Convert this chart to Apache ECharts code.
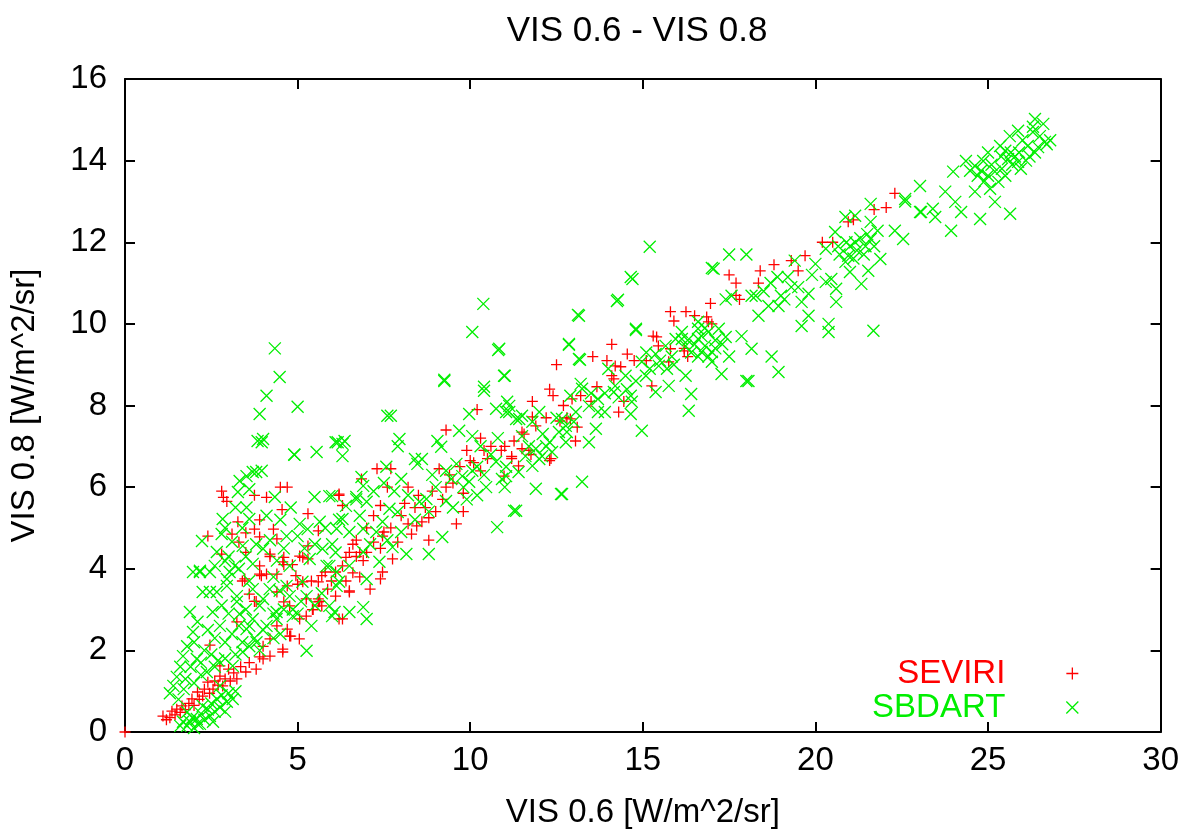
<!DOCTYPE html>
<html>
<head>
<meta charset="utf-8">
<title>VIS 0.6 - VIS 0.8</title>
<script src="https://cdn.jsdelivr.net/npm/echarts@6/dist/echarts.min.js"></script>
<style>
  html, body { margin: 0; padding: 0; background: #fff; }
  #chart { width: 1182px; height: 834px; }
</style>
</head>
<body>
<div id="chart"></div>
<script>
// axis ticks
const xTicks = [0, 5, 10, 15, 20, 25, 30];
const yTicks = [0, 2, 4, 6, 8, 10, 12, 14, 16];

// SEVIRI measurements [VIS 0.6, VIS 0.8]
const seviriLow = [
  [0, 0], [1.1, 0.39], [1.2, 0.3], [1.3, 0.35], [1.36, 0.51], [1.45, 0.42], [1.5, 0.56], [1.6, 0.48],
  [1.65, 0.64], [1.75, 0.55], [1.85, 0.7], [1.94, 0.81], [2.0, 0.65], [2.1, 0.98], [2.15, 0.8],
  [2.25, 0.88], [2.3, 1.05], [2.4, 1.22], [2.45, 0.95], [2.55, 1.05], [2.6, 1.25], [2.75, 1.37],
  [2.7, 1.15], [2.83, 1.13], [2.9, 1.3], [3.0, 1.54], [3.05, 1.25], [3.15, 1.45], [3.24, 1.3],
  [3.35, 1.6], [3.5, 1.47], [3.6, 1.7], [3.8, 1.54], [3.9, 1.84], [4.0, 1.79], [4.0, 2.1], [4.2, 1.86],
  [4.2, 2.28], [4.4, 2.6], [4.57, 1.96], [4.57, 2.03], [4.7, 2.52], [4.77, 2.35], [4.8, 2.35],
  [5.05, 2.28], [5.06, 2.77], [5.25, 2.84], [5.43, 3.0], [5.45, 3.0], [5.6, 3.26], [5.64, 3.2],
  [5.7, 3.09], [6.1, 3.33], [6.2, 2.77], [6.3, 2.77], [6.5, 3.43], [6.5, 3.46], [2.46, 2.13],
  [2.75, 1.62], [3.24, 2.7]
];
const seviriCloud = [
  [2.4, 4.8], [2.8, 5.9], [2.85, 5.75], [2.95, 5.65], [3.1, 4.85], [3.27, 5.15], [3.3, 4.65],
  [3.4, 3.7], [3.47, 3.75], [3.5, 4.4], [3.5, 4.88], [3.6, 3.38], [3.75, 3.2], [3.75, 4.97],
  [3.75, 5.8], [3.8, 3.2], [3.9, 3.87], [3.9, 4.78], [3.9, 5.2], [3.95, 3.83], [4.1, 3.87],
  [4.1, 5.75], [4.2, 4.3], [4.2, 4.36], [4.3, 4.97], [4.4, 3.43], [4.4, 3.87], [4.4, 4.73],
  [4.5, 6.0], [4.55, 5.45], [4.57, 4.17], [4.6, 3.19], [4.6, 4.1], [4.6, 4.28], [4.7, 3.58],
  [4.7, 6.0], [4.77, 3.09], [4.85, 4.1], [4.95, 3.83], [5.0, 3.62], [5.06, 4.31], [5.15, 3.68],
  [5.15, 4.28], [5.25, 3.26], [5.3, 4.24], [5.3, 4.56], [5.3, 5.35], [5.4, 3.7], [5.6, 3.19],
  [5.6, 3.68], [5.6, 4.93], [5.7, 3.83], [5.8, 3.92], [5.87, 3.5], [5.98, 3.7], [6.1, 3.92],
  [2.8, 4.36], [3.9, 4.07]
];
const seviriMid = [
  [6.2, 5.83], [6.3, 5.55], [6.2, 5.8], [6.3, 4.07], [6.4, 3.7], [6.4, 4.28], [6.5, 4.4], [6.7, 4.7],
  [6.8, 3.8], [6.8, 4.4], [6.85, 6.2], [7.1, 3.5], [7.2, 4.65], [7.3, 6.45], [7.4, 3.75], [7.4, 4.5],
  [7.4, 5.55], [7.46, 3.92], [7.6, 6.0], [7.7, 6.45], [7.75, 4.24], [7.9, 4.65], [8.2, 6.0],
  [8.3, 4.85], [8.6, 5.15], [8.8, 4.7], [9.0, 5.4], [9.1, 6.45], [9.3, 7.4], [9.5, 6.1], [9.6, 5.1],
  [9.8, 5.85], [9.8, 5.4], [10.0, 6.65], [10.2, 7.9], [10.3, 7.2], [10.3, 6.4], [10.6, 7.0],
  [8.0, 5.3], [8.1, 5.6], [8.4, 5.5], [8.5, 5.8], [8.7, 5.5], [8.9, 5.9], [9.2, 5.7], [9.3, 6.0],
  [8.2, 5.1], [7.7, 5.0], [7.5, 4.9], [7.0, 4.4], [6.9, 4.2], [6.6, 3.9], [6.7, 4.3], [9.4, 6.3],
  [9.7, 6.5], [10.1, 6.6], [10.5, 6.7], [10.4, 6.9], [9.9, 6.9], [7.2, 5.3], [7.0, 5.0], [6.6, 4.6],
  [7.46, 4.8], [8.8, 5.25], [8.45, 5.05]
];
const seviriHigh = [
  [10.9, 6.9], [11.0, 7.0], [10.98, 6.27], [11.2, 6.75], [11.2, 6.7], [11.27, 7.13], [11.4, 6.52],
  [11.5, 7.35], [11.5, 6.94], [11.56, 7.3], [11.7, 6.9], [11.76, 6.8], [11.8, 8.1], [11.8, 7.72],
  [11.9, 7.5], [12.2, 7.7], [12.3, 8.4], [12.3, 6.65], [12.34, 6.7], [12.4, 8.24], [12.5, 9.0],
  [12.6, 7.62], [12.7, 8.0], [12.8, 7.7], [12.9, 7.67], [12.95, 8.16], [13.05, 7.13], [13.1, 7.47],
  [13.2, 8.24], [13.5, 8.1], [13.55, 9.2], [13.67, 8.46], [13.96, 9.1], [14.1, 9.5], [14.1, 8.73],
  [14.16, 8.65], [14.2, 8.97], [14.3, 7.84], [14.36, 8.95], [14.45, 8.1], [14.55, 9.26],
  [14.75, 9.1], [15.1, 9.1], [15.26, 8.48], [15.3, 9.7], [15.4, 9.68], [15.45, 9.46], [15.75, 9.07],
  [15.8, 10.3], [15.8, 9.39], [15.9, 10.07], [16.2, 9.4], [16.2, 9.34], [16.25, 10.3], [16.3, 9.2],
  [16.5, 10.2], [16.85, 10.17], [16.9, 10.05], [16.96, 10.5], [17.0, 10.0], [17.5, 11.2],
  [17.7, 11.0], [17.7, 10.7], [17.8, 10.6], [18.35, 11.0], [18.4, 11.3], [18.8, 11.45],
  [19.3, 11.55], [19.5, 11.3], [19.7, 11.67], [20.2, 12.0], [20.5, 12.0], [20.95, 12.5],
  [21.1, 12.55], [21.7, 12.8], [22.05, 12.85], [22.3, 13.2]
];

// SBDART simulations [VIS 0.6, VIS 0.8]
const sbdartLow = [
  [1.6, 0.15], [1.68, 0.25], [1.8, 0.15], [1.8, 0.49], [1.88, 0.25], [1.95, 0.35], [2.0, 0.1],
  [2.08, 0.32], [2.1, 0.2], [2.17, 0.2], [2.2, 0.45], [2.25, 0.64], [2.3, 0.3], [2.4, 0.55],
  [2.46, 0.39], [2.5, 0.7], [2.6, 0.5], [2.66, 0.81], [2.75, 0.6], [2.8, 0.9], [2.95, 0.74],
  [3.0, 0.95], [3.12, 0.81], [3.2, 1.0], [2.9, 0.5], [2.55, 0.25]
];
const sbdartCloud = [
  [1.4, 1.13], [1.3, 0.95], [1.5, 1.35], [1.6, 1.6], [1.68, 1.86], [1.75, 1.3], [1.8, 2.1],
  [1.88, 2.94], [1.9, 1.6], [1.97, 2.45], [2.0, 2.2], [2.08, 1.79], [2.1, 2.7], [2.17, 3.92],
  [2.2, 1.4], [2.25, 3.43], [2.3, 2.0], [2.37, 1.47], [2.4, 2.5], [2.46, 3.43], [2.46, 3.92],
  [2.5, 1.9], [2.54, 2.94], [2.6, 2.3], [2.66, 3.43], [2.7, 1.75], [2.75, 1.13], [2.75, 2.6],
  [2.8, 3.1], [2.9, 2.2], [2.95, 3.58], [2.95, 3.75], [3.0, 2.9], [3.03, 3.92], [3.1, 2.4],
  [3.12, 1.62], [3.2, 1.9], [3.24, 3.19], [3.24, 3.33], [3.3, 2.6], [3.32, 2.89], [3.4, 2.2],
  [3.41, 1.96], [3.5, 3.0], [3.52, 2.52], [3.6, 2.1], [3.7, 2.77], [3.7, 3.5], [3.75, 2.3],
  [3.81, 2.2], [3.9, 3.1], [4.0, 3.26], [4.0, 2.5], [4.1, 2.6], [4.19, 3.5], [4.3, 2.9],
  [4.39, 2.77], [4.39, 2.94], [4.48, 3.46], [4.5, 2.4], [4.68, 3.58], [4.77, 3.33], [4.86, 2.84],
  [4.86, 3.0], [5.0, 2.9], [5.14, 3.68], [5.26, 1.99], [5.26, 3.33], [5.4, 2.6], [5.5, 3.1],
  [5.84, 4.07], [5.92, 3.09], [6.0, 2.84], [6.07, 2.94], [6.13, 3.58], [6.13, 3.92], [6.2, 3.68],
  [6.5, 2.94], [6.5, 4.07], [6.9, 3.06], [7.0, 2.77], [7.0, 3.75], [7.37, 4.17], [6.9, 4.41],
  [1.55, 0.8], [1.7, 1.05], [2.0, 1.2], [2.2, 1.7], [2.6, 1.6], [2.9, 1.8], [3.6, 2.6], [3.9, 2.0],
  [4.3, 2.3], [4.6, 3.0], [5.1, 3.2], [5.7, 3.4]
];
const sbdartUpper = [
  [1.97, 3.92], [2.17, 3.95], [2.23, 4.68], [2.6, 4.07], [2.66, 4.41], [2.8, 4.85], [2.83, 5.22],
  [2.9, 4.19], [3.1, 4.66], [3.18, 4.07], [3.27, 5.88], [3.32, 6.15], [3.41, 4.56], [3.52, 5.5],
  [3.52, 6.27], [3.6, 5.22], [3.6, 5.95], [3.7, 4.12], [3.7, 6.37], [3.8, 6.37], [3.84, 7.13],
  [3.96, 6.4], [3.96, 7.1], [4.0, 4.49], [4.0, 7.18], [4.1, 5.3], [4.34, 5.76], [4.68, 4.8],
  [4.77, 4.07], [4.91, 6.79], [5.0, 4.8], [5.06, 5.1], [5.29, 4.97], [5.35, 4.24], [5.49, 5.76],
  [5.55, 6.86], [5.64, 5.15], [5.72, 4.49], [5.92, 4.07], [5.92, 5.78], [6.1, 7.1], [6.16, 7.1],
  [6.3, 7.06], [6.3, 6.76], [6.7, 5.7], [6.85, 6.25], [7.6, 7.75], [4.9, 6.8],
  [3.9, 7.79], [4.1, 8.24], [4.34, 9.4], [4.48, 8.7], [5.0, 7.97],
  [3.0, 4.3], [3.3, 4.0], [3.5, 4.3], [3.8, 4.6], [4.2, 4.7], [4.4, 4.2], [4.6, 4.5], [4.3, 3.8],
  [3.6, 3.7], [3.4, 5.0], [3.2, 5.5], [2.9, 5.0], [4.5, 5.2], [4.8, 5.5], [5.2, 4.5], [5.5, 4.6],
  [5.8, 5.0], [6.0, 4.6], [6.2, 5.2], [6.1, 4.4]
];
const sbdartMid = [
  [6.0, 5.78], [6.13, 4.98], [6.3, 5.22], [6.36, 7.13], [6.4, 5.54], [6.5, 4.9], [6.7, 5.76],
  [6.9, 4.98], [6.9, 6.03], [7.0, 5.64], [7.28, 4.9], [7.46, 5.15], [7.57, 6.5], [7.66, 5.47],
  [7.7, 7.75], [7.75, 4.53], [7.9, 5.39], [7.9, 7.0], [7.95, 7.18], [8.15, 4.36], [8.4, 6.69],
  [8.47, 6.57], [8.53, 5.64], [8.6, 6.69], [8.73, 5.71], [8.8, 4.36], [9.05, 7.13], [9.16, 6.99],
  [9.19, 4.78], [9.25, 8.6], [9.3, 5.66], [9.45, 6.2], [9.6, 6.57], [9.68, 7.38], [9.77, 6.27],
  [9.97, 6.13], [9.97, 7.79], [10.06, 6.4], [10.06, 7.25], [10.4, 8.36], [10.46, 6.0],
  [10.75, 6.62], [10.75, 7.92], [10.78, 5.02], [10.92, 6.2], [11.04, 6.5], [11.07, 8.09],
  [11.13, 7.84], [11.33, 5.42], [11.5, 7.75], [11.6, 6.76], [11.8, 7.6], [11.9, 6.94],
  [11.9, 5.96], [12.08, 6.76], [12.66, 5.83], [12.66, 7.67],
  [7.2, 5.9], [7.5, 6.1], [7.8, 5.9], [8.0, 6.2], [8.2, 5.8], [8.4, 5.2], [8.0, 4.9], [7.6, 4.7],
  [7.1, 4.6], [6.8, 5.3], [8.8, 5.4], [9.0, 6.0], [9.3, 6.4], [8.9, 6.3], [9.5, 5.5], [9.8, 6.0],
  [10.2, 6.5], [10.4, 6.3], [10.6, 6.8], [10.3, 7.0], [10.8, 7.2], [10.2, 5.8], [11.0, 6.0],
  [9.9, 5.7]
];
const sbdartBand = [
  [10.84, 9.39], [10.98, 8.73], [11.04, 6.27], [11.04, 7.84], [11.13, 7.99], [11.27, 5.42],
  [11.33, 7.67], [11.4, 6.37], [11.42, 7.67], [11.5, 7.25], [11.8, 6.52], [12.0, 6.69],
  [12.0, 7.84], [12.2, 7.0], [12.3, 7.1], [12.37, 6.86], [12.57, 7.35], [12.63, 5.83],
  [12.77, 7.5], [12.77, 7.1], [12.8, 7.35], [12.86, 9.51], [12.9, 8.24], [13.06, 7.84],
  [13.15, 9.14], [13.15, 10.2], [13.2, 8.53], [13.24, 6.13], [13.24, 8.41], [13.44, 7.99],
  [13.44, 7.1], [13.64, 7.43], [13.7, 7.84], [13.7, 8.16], [13.9, 7.84], [14.16, 8.33],
  [14.2, 8.48], [14.25, 10.56], [14.5, 8.73], [14.54, 8.4], [14.65, 7.79], [14.65, 8.24],
  [14.68, 8.09], [14.7, 11.1], [14.8, 9.88], [14.97, 7.38], [14.97, 9.07], [15.09, 8.73],
  [15.2, 8.9], [15.37, 8.33], [15.37, 9.26], [15.46, 8.97], [15.66, 9.46], [15.75, 8.48],
  [15.84, 9.2], [15.95, 9.63], [16.13, 9.63], [16.13, 9.8], [16.24, 9.46], [16.24, 8.73],
  [16.33, 7.87], [16.4, 8.28], [16.6, 9.63], [16.6, 9.88], [16.6, 10.05], [16.7, 9.31],
  [16.8, 9.46], [17.0, 9.31], [17.0, 9.07], [17.2, 9.88], [17.28, 8.77], [17.4, 9.68], [17.5, 9.2],
  [17.57, 10.69], [17.86, 9.7], [18.0, 8.6], [18.15, 9.39], [18.27, 10.69],
  [10.06, 9.8], [10.38, 10.49], [10.4, 8.46], [10.81, 9.36], [11.0, 8.73], [12.86, 9.49],
  [13.12, 10.22], [13.18, 9.12], [14.28, 10.59], [14.65, 11.15], [14.8, 9.85], [15.2, 11.89],
  [17.0, 11.37], [9.25, 8.63],
  [16.5, 9.5], [16.7, 9.7], [16.9, 9.8], [17.1, 9.6], [16.8, 9.9], [16.4, 9.3], [16.9, 9.2],
  [17.1, 9.4], [16.6, 9.2], [17.3, 9.5], [16.3, 9.6], [15.5, 9.1], [15.1, 9.3], [14.8, 8.6],
  [14.3, 8.2], [13.9, 8.3], [13.5, 8.3], [13.0, 7.6], [12.5, 7.7], [12.1, 7.3], [11.7, 7.0],
  [14.0, 8.9], [15.7, 8.9], [15.9, 9.0]
];
const sbdartRight = [
  [17.05, 11.35], [17.4, 10.6], [17.5, 11.7], [18.0, 11.7], [18.06, 8.6], [18.15, 10.69],
  [18.35, 10.2], [18.64, 10.44], [18.73, 9.2], [18.9, 11.15], [18.93, 10.44], [18.93, 8.82],
  [19.0, 10.69], [19.2, 11.15], [19.4, 11.55], [19.5, 10.9], [19.6, 10.54], [19.6, 9.95],
  [19.8, 10.74], [20.0, 11.47], [20.3, 11.03], [20.3, 11.84], [20.38, 10.0], [20.38, 9.8],
  [20.46, 11.1], [20.57, 12.25], [20.6, 10.86], [20.6, 10.54], [20.66, 11.9], [20.87, 11.52],
  [20.87, 12.62], [20.95, 11.67], [21.0, 11.27], [21.15, 12.0], [21.15, 12.65], [21.33, 10.98],
  [21.45, 11.9], [21.53, 11.3], [21.6, 12.08], [21.6, 12.5], [21.6, 12.94], [21.68, 9.83],
  [21.8, 12.28], [21.88, 11.59], [22.3, 12.28], [22.54, 12.08],
  [21.0, 11.9], [21.2, 11.8], [21.3, 12.1], [21.1, 11.6], [21.4, 11.7], [20.9, 12.0], [21.5, 12.2],
  [21.7, 11.9], [20.7, 11.7], [18.5, 10.8], [18.7, 11.0], [19.3, 10.9], [19.1, 10.6], [19.9, 11.2],
  [19.8, 10.2]
];
const sbdartTop = [
  [22.6, 13.06], [22.6, 13.0], [23.03, 13.38], [23.03, 12.74], [23.06, 12.74], [23.4, 12.82],
  [23.47, 12.62], [23.76, 13.24], [23.93, 12.28], [23.99, 13.73], [24.05, 12.99], [24.22, 12.74],
  [24.36, 13.99], [24.48, 13.75], [24.62, 13.87], [24.62, 13.24], [24.7, 13.63], [24.77, 12.57],
  [24.8, 13.75], [24.86, 13.99], [25.0, 14.2], [25.0, 13.63], [25.06, 13.31], [25.2, 13.73],
  [25.2, 12.99], [25.3, 13.48], [25.35, 14.36], [25.38, 14.1], [25.5, 14.24], [25.5, 13.63],
  [25.58, 14.04], [25.63, 14.6], [25.64, 12.7], [25.66, 14.2], [25.78, 14.1], [25.87, 14.73],
  [25.87, 13.97], [25.95, 13.8], [26.15, 14.36], [26.2, 14.1], [26.3, 14.83], [26.3, 14.7],
  [26.36, 15.02], [26.36, 14.2], [26.45, 14.33], [26.65, 14.46],
  [25.1, 13.9], [25.4, 13.8], [25.7, 13.9], [26.0, 14.5], [26.5, 14.6], [26.7, 14.4], [25.9, 14.2],
  [24.9, 13.5], [26.1, 14.0], [26.6, 14.9], [26.8, 14.5]
];

const seviri = [].concat(seviriLow, seviriCloud, seviriMid, seviriHigh);
const sbdart = [].concat(sbdartLow, sbdartCloud, sbdartUpper, sbdartMid, sbdartBand, sbdartRight, sbdartTop);

const plusIcon = 'path://M5,0L5,10M0,5L10,5';
const crossIcon = 'path://M0,0L10,10M10,0L0,10';
const FONT = 'Liberation Sans, Arial, sans-serif';
const FS = 33;

const chart = echarts.init(document.getElementById('chart'));

// box border with inward ticks on all four sides
const axisLine = { show: true, onZero: false, lineStyle: { color: '#000', width: 2 } };
const axisTick = { show: true, inside: true, length: 10, lineStyle: { color: '#000', width: 2 } };

chart.setOption({
  animation: false,
  backgroundColor: '#fff',
  title: {
    text: 'VIS 0.6 - VIS 0.8',
    left: 632,
    top: 9,
    textAlign: 'center',
    textStyle: { fontFamily: FONT, fontSize: 35, fontWeight: 'normal', color: '#000' }
  },
  grid: { left: 125, right: 18, top: 79, bottom: 102 },
  legend: {
    orient: 'vertical',
    align: 'right',
    right: 98,
    top: 652,
    itemGap: 1,
    itemWidth: 12,
    itemHeight: 12,
    selectedMode: false,
    textStyle: { fontFamily: FONT, fontSize: FS, padding: [0, 56, 0, 0] },
    data: [
      { name: 'SEVIRI', icon: plusIcon, textStyle: { color: '#ff0000' },
        itemStyle: { color: 'transparent', borderColor: '#ff0000', borderWidth: 1.3 } },
      { name: 'SBDART', icon: crossIcon, textStyle: { color: '#00ee00' },
        itemStyle: { color: 'transparent', borderColor: '#00ee00', borderWidth: 1.3 } }
    ]
  },
  xAxis: [
    {
      type: 'value', min: xTicks[0], max: xTicks[xTicks.length - 1], interval: 5,
      position: 'bottom',
      name: 'VIS 0.6 [W/m^2/sr]', nameLocation: 'middle', nameGap: 64,
      nameTextStyle: { fontFamily: FONT, fontSize: FS, color: '#000' },
      axisLine: axisLine, axisTick: axisTick,
      axisLabel: { fontFamily: FONT, fontSize: FS, color: '#000', margin: 12 },
      splitLine: { show: false }
    },
    {
      type: 'value', min: xTicks[0], max: xTicks[xTicks.length - 1], interval: 5,
      position: 'top',
      axisLine: axisLine, axisTick: axisTick,
      axisLabel: { show: false }, splitLine: { show: false }
    }
  ],
  yAxis: [
    {
      type: 'value', min: yTicks[0], max: yTicks[yTicks.length - 1], interval: 2,
      position: 'left',
      name: 'VIS 0.8 [W/m^2/sr]', nameLocation: 'middle', nameGap: 84,
      nameTextStyle: { fontFamily: FONT, fontSize: FS, color: '#000' },
      axisLine: axisLine, axisTick: axisTick,
      axisLabel: { fontFamily: FONT, fontSize: FS, color: '#000', margin: 18 },
      splitLine: { show: false }
    },
    {
      type: 'value', min: yTicks[0], max: yTicks[yTicks.length - 1], interval: 2,
      position: 'right',
      axisLine: axisLine, axisTick: axisTick,
      axisLabel: { show: false }, splitLine: { show: false }
    }
  ],
  series: [
    {
      name: 'SEVIRI',
      type: 'scatter',
      symbol: plusIcon,
      symbolSize: 11,
      data: seviri,
      itemStyle: { color: 'transparent', borderColor: '#ff0000', borderWidth: 1.3, opacity: 1 },
      emphasis: { disabled: true }
    },
    {
      name: 'SBDART',
      type: 'scatter',
      symbol: crossIcon,
      symbolSize: 12,
      data: sbdart,
      itemStyle: { color: 'transparent', borderColor: '#00ee00', borderWidth: 1.3, opacity: 1 },
      emphasis: { disabled: true }
    }
  ]
});

window.addEventListener('resize', () => chart.resize());
</script>
</body>
</html>
